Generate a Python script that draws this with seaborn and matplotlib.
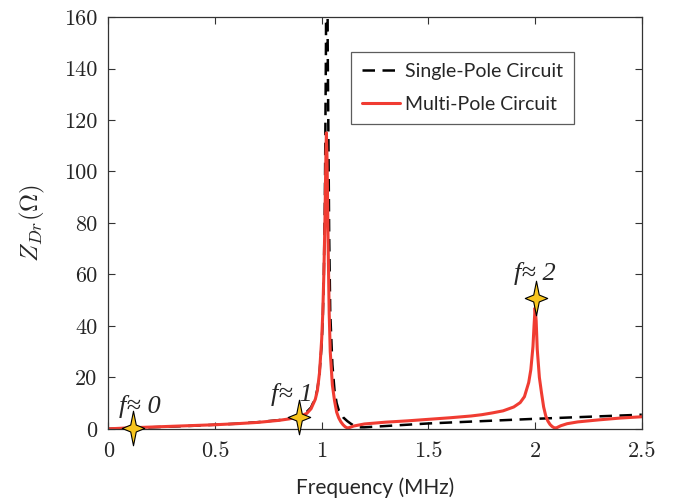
import matplotlib
matplotlib.use("Agg")
import matplotlib.pyplot as plt
from matplotlib.path import Path
import seaborn as sns

# frequency (MHz) and impedance (Ohm)
f_single = [0, 0.1, 0.2, 0.3, 0.4, 0.5, 0.6, 0.7, 0.8, 0.85, 0.9, 0.93, 0.95,
            0.97, 0.98, 0.99, 1.0, 1.005, 1.01, 1.015, 1.02, 1.024, 1.028,
            1.035, 1.04, 1.05, 1.06, 1.07, 1.08, 1.10, 1.12, 1.14, 1.17, 1.2,
            1.3, 1.5, 1.75, 2.0, 2.25, 2.5]
z_single = [0, 0.3, 0.6, 0.9, 1.2, 1.6, 2.0, 2.6, 3.4, 4.1, 5.2, 6.6, 8.3,
            12, 15.5, 22, 33, 43, 60, 90, 150, 300, 150,
            75, 45, 25, 15, 10, 7.2, 4.5, 3.0, 1.8, 0.6, 0.6,
            1.1, 2.1, 3.0, 3.9, 4.7, 5.5]

f_multi = [0, 0.1, 0.2, 0.3, 0.4, 0.5, 0.6, 0.7, 0.8, 0.85, 0.9, 0.93, 0.95,
           0.97, 0.98, 0.99, 1.0, 1.005, 1.01, 1.015, 1.02, 1.022, 1.025,
           1.03, 1.035, 1.04, 1.05, 1.06, 1.07, 1.08, 1.09, 1.10, 1.11, 1.12,
           1.13, 1.15, 1.2, 1.3, 1.4, 1.5, 1.6, 1.7, 1.75, 1.8, 1.85, 1.9,
           1.93, 1.95, 1.97, 1.98, 1.99, 1.995, 2.0, 2.005, 2.01, 2.02, 2.03,
           2.04, 2.05, 2.06, 2.07, 2.08, 2.09, 2.1, 2.12, 2.15, 2.2, 2.3, 2.4,
           2.5]
z_multi = [0, 0.4, 0.7, 1.0, 1.3, 1.6, 2.0, 2.5, 3.3, 3.9, 4.9, 6.0, 7.8,
           11.5, 15, 22, 35, 45, 60, 80, 108, 115, 105,
           72, 45, 30, 17, 11, 6.5, 4.2, 2.7, 1.6, 0.8, 0.35,
           0.5, 1.1, 1.9, 2.6, 3.1, 3.7, 4.3, 5.0, 5.5, 6.2, 7.0, 8.5,
           10.2, 12.5, 18, 23, 32, 40, 47, 42, 31, 20, 14,
           8.5, 5.0, 3.0, 1.7, 0.9, 0.4, 0.4, 1.2, 2.0, 2.7, 3.5, 4.2,
           4.7]

# marked operating points
star_f = [0.114, 0.894, 2.004]
star_z = [0.3, 4.7, 50.9]
star_labels = ["f≈ 0", "f≈ 1", "f≈ 2"]
label_f = [0.15, 0.86, 2.0]
label_z = [4.3, 9.0, 56.0]

sns.set_style("ticks")
plt.rcParams["font.family"] = ["Lato", "DejaVu Sans"]
plt.rcParams["mathtext.fontset"] = "cm"

fig = plt.figure(figsize=(6.77, 5.01), dpi=100)
ax = fig.add_axes([0.16, 0.144, 0.788, 0.822])

sns.lineplot(x=f_single, y=z_single, ax=ax, color="black", lw=1.8,
             label="Single-Pole Circuit", sort=False)
ax.lines[-1].set_dashes((5, 3))
sns.lineplot(x=f_multi, y=z_multi, ax=ax, color="#f03c32", lw=2.2,
             label="Multi-Pole Circuit", sort=False)

star = Path([(0, 1), (0.16, 0.2), (0.65, 0), (0.16, -0.2), (0, -1),
             (-0.16, -0.2), (-0.65, 0), (-0.16, 0.2), (0, 1)],
            [Path.MOVETO] + [Path.LINETO] * 7 + [Path.CLOSEPOLY])
ax.scatter(star_f, star_z, marker=star, s=620, color="#f7c51e",
           edgecolor="black", linewidth=0.8, zorder=5, clip_on=False)
for x, y, t in zip(label_f, label_z, star_labels):
    ax.text(x, y, t, ha="center", va="bottom", fontsize=19,
            family="Liberation Serif", style="italic")

ax.set_xlim(0, 2.5)
ax.set_ylim(0, 160)
ax.set_xticks([0, 0.5, 1, 1.5, 2, 2.5])
ax.set_xticklabels(["0", "0.5", "1", "1.5", "2", "2.5"])
ax.set_yticks(range(0, 161, 20))
for lab in ax.get_xticklabels() + ax.get_yticklabels():
    lab.set_family("cmr10")
    lab.set_fontsize(16)
ax.tick_params(axis="x", pad=9)
ax.tick_params(axis="y", pad=8)
ax.tick_params(direction="in", length=5, top=True, right=True,
               color="#333333", width=0.8)
for sp in ax.spines.values():
    sp.set_color("#333333")
    sp.set_linewidth(0.9)

ax.set_xlabel("Frequency (MHz)", fontsize=15, labelpad=12)
ax.set_ylabel(r"$Z_{Dr}(\Omega)$", fontsize=18, labelpad=12)

leg = ax.legend(loc="upper right", bbox_to_anchor=(0.873, 0.915),
                fontsize=14, frameon=True, fancybox=False,
                handlelength=2.0, handletextpad=0.25, borderpad=0.55,
                labelspacing=0.85, borderaxespad=0)
leg.get_frame().set_edgecolor("#333333")
leg.get_frame().set_linewidth(0.9)

fig.savefig("out.png", dpi=100)
